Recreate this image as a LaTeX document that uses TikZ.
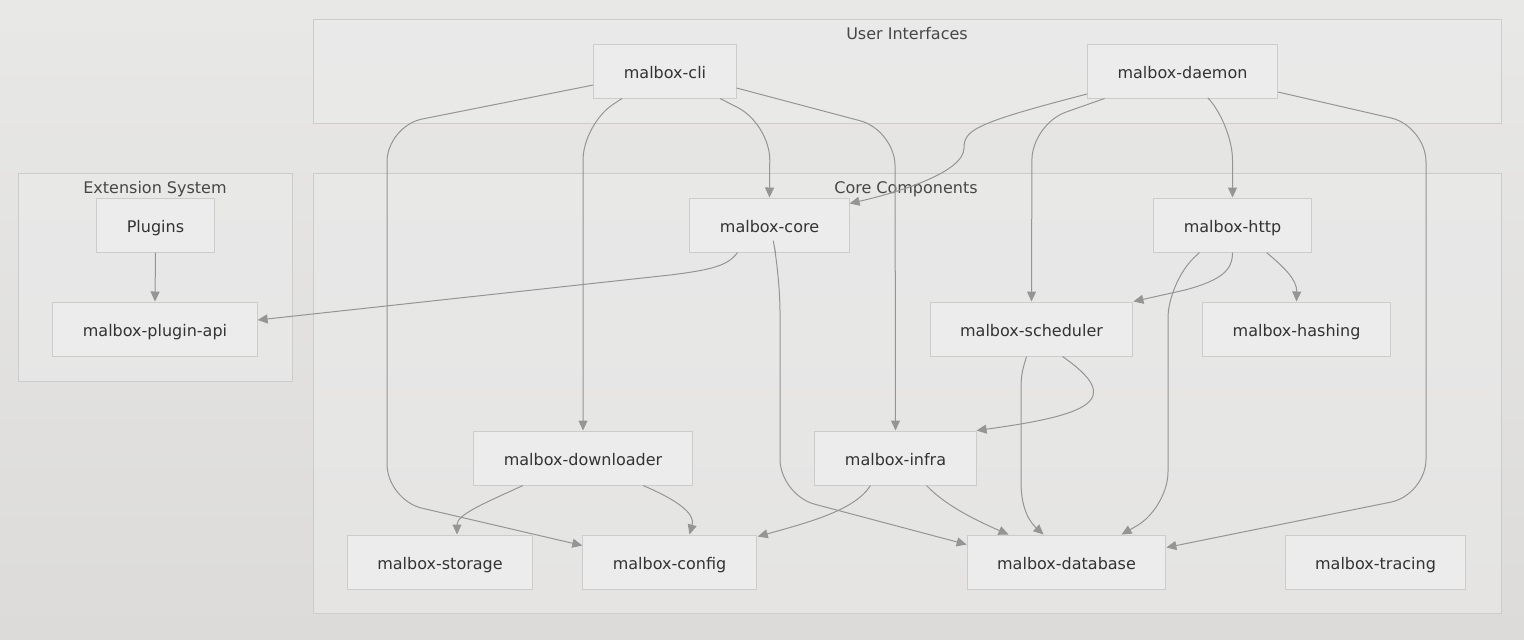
\documentclass[tikz,border=0pt]{standalone}
\usepackage{fontspec}
\setmainfont{DejaVu Sans}
\usetikzlibrary{arrows.meta,calc}
\definecolor{bgtop}{HTML}{E8E8E7}
\definecolor{bgbot}{HTML}{DCDBD9}
\definecolor{clfill}{HTML}{ECECEC}
\definecolor{clline}{HTML}{CCCCCC}
\definecolor{boxfill}{HTML}{ECECEC}
\definecolor{edgegray}{HTML}{959595}
\definecolor{txt}{HTML}{333333}

\tikzset{
  cluster/.style={draw=clline, fill=clfill, fill opacity=0.55, line width=0.5pt},
  clusterlabel/.style={text=txt!90!white, text height=7pt, text depth=0pt,
    font=\fontsize{8}{9.6}\selectfont},
  crate/.style={draw=clline, fill=boxfill, line width=0.5pt, inner xsep=15pt,
    minimum height=27pt, text height=7pt, text depth=0pt, text=txt,
    font=\fontsize{8}{9.6}\selectfont},
  dep/.style={draw=edgegray, line width=0.5pt, rounded corners=18pt,
    -{Triangle[length=5pt,width=4.5pt]}},
  curvedep/.style={dep, sharp corners},
}

\begin{document}
\begin{tikzpicture}[x=0.5pt,y=-0.5pt]
\useasboundingbox (0,0) rectangle (1524,639);
\shade[top color=bgtop, bottom color=bgbot] (0,0) rectangle (1524,639);

% to draw the groups
\node[cluster, minimum width=594pt, minimum height=52pt] (uigroup) at (907,71) {};
\node[cluster, minimum width=137pt, minimum height=104pt] (extgroup) at (155,277) {};
\node[cluster, minimum width=594pt, minimum height=220pt] (coregroup) at (907,393) {};
\node[clusterlabel] (uilabel) at (907,32) {User Interfaces};
\node[clusterlabel] (extlabel) at (155,186) {Extension System};
\node[clusterlabel] (corelabel) at (906,186) {Core Components};

% to write crates
\node[crate] (cli) at (665,71) {malbox-cli};
\node[crate] (daemon) at (1182.5,71) {malbox-daemon};
\node[crate] (plugins) at (155.5,225) {Plugins};
\node[crate] (pluginapi) at (155,329) {malbox-plugin-api};
\node[crate] (core) at (769.5,225) {malbox-core};
\node[crate] (http) at (1232.5,225) {malbox-http};
\node[crate] (scheduler) at (1031.5,329) {malbox-scheduler};
\node[crate] (hashing) at (1296.5,329) {malbox-hashing};
\node[crate] (downloader) at (583,458) {malbox-downloader};
\node[crate] (infra) at (895.5,458) {malbox-infra};
\node[crate] (storage) at (440,562) {malbox-storage};
\node[crate] (config) at (669.5,562) {malbox-config};
\node[crate] (database) at (1066.5,562) {malbox-database};
\node[crate] (tracing) at (1375.5,562) {malbox-tracing};

%User Interfaces side:
\draw[dep] ($(cli.west)+(0,14)$) -- (387,126) -- (387,500) -- ($(config.north west)+(0,11)$);
\draw[dep] ($(cli.south)+(-43,0)$) -- (583,124) -- (downloader.north);
\draw[dep] ($(cli.south)+(55,0)$) -- (770,124) -- (core.north);
\draw[dep] ($(cli.east)+(0,17)$) -- (895,130) -- (infra.north);
\draw[curvedep] ($(daemon.west)+(0,23)$) .. controls (975,123) and (964,130) .. (964,148)
  .. controls (964,172) and (900,192) .. ($(core.north east)+(0,6)$);
\draw[dep] ($(daemon.south)+(-78,0)$) -- (1032,124) -- (scheduler.north);
\draw[dep] ($(daemon.south)+(26,0)$) -- (1232.5,124) -- (http.north);
\draw[dep] ($(daemon.east)+(0,21)$) -- (1426,126) -- (1426,495) -- ($(database.north east)+(0,13)$);

%Extension System side:
\draw[dep] (plugins.south) -- (pluginapi.north);
\draw[curvedep] ($(core.south)+(-32,0)$) .. controls (728,266) and (710,270) .. (670,275)
  -- ($(pluginapi.east)+(0,-9)$);

%Core Components side:
\draw[dep] ($(core.south)+(6,0)$) -- (780,276) -- (780,495) -- ($(database.north west)+(0,10)$);
\draw[curvedep] (http.south) .. controls (1232.5,270) and (1222,280) .. (1185,290)
  -- (scheduler.north east);
\draw[dep] ($(http.south)+(-33,0)$) -- (1168,282) -- (1168,508) -- ($(database.north)+(55,0)$);
\draw[curvedep] ($(http.south)+(34,0)$) .. controls (1285,268) and (1297,280) .. (hashing.north);
\draw[curvedep] ($(scheduler.south)+(31,0)$) .. controls (1125,400) and (1090,415) .. (infra.north east);
\draw[curvedep] ($(scheduler.south)+(-5,0)$) .. controls (1021,375) .. (1021,400) -- (1021,482)
  .. controls (1021,512) and (1032,524) .. ($(database.north)+(-23,0)$);
\draw[curvedep] ($(downloader.south)+(-60,0)$) .. controls (480,505) and (457,515) .. ($(storage.north)+(17,0)$);
\draw[curvedep] ($(downloader.south)+(60,0)$) .. controls (682,502) and (695,515) .. ($(config.north)+(20,0)$);
\draw[curvedep] ($(infra.south)+(-25,0)$) .. controls (855,510) and (810,522) .. ($(config.north east)+(1,2)$);
\draw[curvedep] ($(infra.south)+(31,0)$) .. controls (945,505) and (975,520) .. ($(database.north)+(-58,0)$);
\end{tikzpicture}
\end{document}
